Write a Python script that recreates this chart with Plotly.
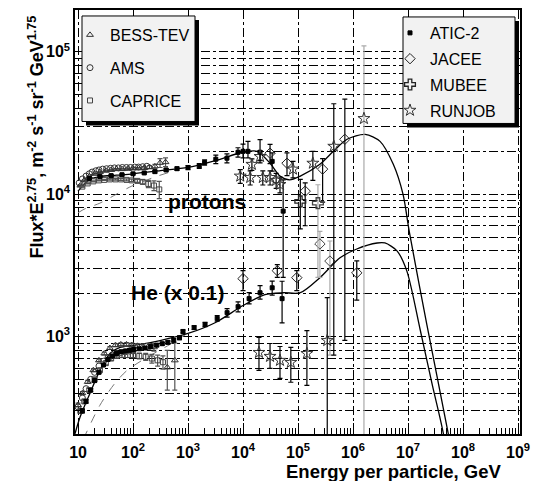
import plotly.graph_objects as go

FONT = "Liberation Sans, Arial, sans-serif"

# ---------------- model curves ----------------
P_FIT_E = [10, 13.4, 18, 25, 50, 100, 300, 1000, 3100, 10000, 18000, 31000, 47000, 70000,
           110000, 250000, 440000, 780000, 1660000, 3100000, 5400000, 8100000, 10500000,
           22000000, 54000000, 70000000]
P_FIT_F = [10500, 11900, 12900, 13300, 13600, 13900, 14600, 15400, 17200, 19700, 20000, 16500,
           13400, 12600, 13400, 16200, 20000, 24300, 26300, 23500, 16200, 10000, 5500,
           1210, 207, 118]
P_DASH_E = [10, 13.4, 25, 50, 95, 250, 470, 700]
P_DASH_F = [7400, 7900, 8650, 10000, 11400, 13200, 14300, 15000]

HE_FIT_E = [8.8, 10.9, 16.5, 25, 38, 58, 100, 310, 1000, 3100, 10000, 25000, 54000, 110000,
            250000, 580000, 1170000, 2750000, 3800000, 6300000, 9500000, 16600000, 27500000,
            44000000, 56000000]
HE_FIT_F = [207, 272, 400, 578, 760, 838, 865, 937, 1050, 1250, 1650, 1970, 2030, 2030,
            2590, 3570, 4120, 4540, 4540, 4000, 2890, 1120, 461, 207, 105]
HE_DASH_E = [12.5, 25, 47, 78, 166, 470, 900]
HE_DASH_F = [190, 329, 470, 578, 701, 880, 1030]

# ---------------- protons ----------------
ATIC_P_E = [16, 25, 40, 63, 100, 160, 250, 400, 630, 1000, 1600, 2000, 3200, 5100, 8100,
            10000, 12300, 20400, 33900, 53700]
ATIC_P_F = [12900, 13300, 13500, 13700, 13900, 14100, 14400, 14800, 15100, 15400, 15800,
            16700, 17600, 17900, 19700, 20000, 20000, 19700, 17000, 7600]
ATIC_P_UP = [200, 200, 200, 200, 200, 200, 300, 300, 400, 500, 600, 700, 1200, 1300, 1500,
             2500, 3500, 4500, 2500, 5000]
ATIC_P_DN = [200, 200, 200, 200, 200, 200, 300, 300, 400, 500, 600, 700, 1200, 1300, 1500,
             2000, 2000, 2500, 2500, 5000]

AMS_P_E = [10.5, 12, 14, 16, 18, 21, 24, 28, 33, 39, 46, 54, 64, 76, 90, 107, 126, 150, 178]
AMS_P_F = [12000, 12800, 13400, 13900, 14300, 14600, 14800, 15000, 15100, 15200, 15300,
           15300, 15400, 15400, 15400, 15500, 15500, 15600, 15700]

BESS_P_E = [11, 13, 16, 20, 25, 32, 40, 50, 63, 80, 100, 126, 160, 200, 250, 310, 390]
BESS_P_F = [11500, 12500, 13300, 13900, 14300, 14600, 14800, 15000, 15000, 15100, 15200,
            15200, 15300, 15500, 15700, 16600, 16800]
BESS_P_ERR = [100, 100, 100, 100, 100, 100, 100, 150, 150, 150, 200, 200, 300, 400, 500,
              1200, 1200]

CAP_P_E = [12, 15, 19, 24, 30, 38, 48, 60, 76, 95, 120, 150, 190, 240, 300]
CAP_P_F = [11300, 11900, 12300, 12500, 12600, 12700, 12700, 12700, 12600, 12500, 12400,
           12200, 11800, 11500, 10800]
CAP_P_ERR = [100, 100, 100, 100, 100, 150, 150, 200, 200, 250, 300, 400, 700, 900, 1500]

JACEE_P_E = [31000, 63000, 135000, 280000, 710000]
JACEE_P_F = [19400, 16500, 10500, 15000, 24300]
JACEE_P_UP = [3000, 3000, 1500, 2800, 22300]
JACEE_P_DN = [3000, 3000, 4500, 6200, 23360]

MUBEE_P_E = [110000]
MUBEE_P_F = [8900]
MUBEE_P_UP = [3800]
MUBEE_P_DN = [3200]
MUBEE_P2_E = [230000]
MUBEE_P2_F = [8650]
MUBEE_P2_UP = [3000]
MUBEE_P2_DN = [6050]

RUNJOB_P_E = [8900, 13500, 14500, 20400, 22900, 31000, 40000, 47000, 81000, 186000, 447000]
RUNJOB_P_F = [13400, 13100, 16200, 18400, 13100, 13100, 12500, 11700, 15000, 16500, 21700]
RUNJOB_P_UP = [1500, 1500, 1500, 1800, 1500, 1500, 1500, 1500, 2000, 3500, 21500]
RUNJOB_P_DN = [1500, 1500, 1500, 1800, 1500, 1500, 1500, 1500, 2000, 4000, 20960]
RUNJOB_P2_E = [1580000]
RUNJOB_P2_F = [34000]
RUNJOB_P2_UP = [76000]
RUNJOB_P2_DN = [33900]

# ---------------- helium (x 0.1) ----------------
ATIC_HE_E = [12, 14, 17, 20, 24, 29, 35, 42, 50, 60, 72, 86, 103, 130, 165, 210, 270, 340,
             430, 550, 700, 810, 1290, 2040, 3390, 5130, 8130, 12900, 20400, 33900, 51300]
ATIC_HE_F = [300, 350, 420, 490, 560, 630, 690, 730, 760, 780, 790, 800, 810, 820, 830, 850,
             870, 890, 910, 940, 980, 1085, 1155, 1215, 1340, 1470, 1620, 1845, 2030, 2200, 1845]
ATIC_HE_UP = [10, 10, 10, 12, 12, 12, 14, 14, 15, 15, 15, 15, 16, 16, 18, 18, 20, 20, 22, 25,
              28, 30, 35, 40, 60, 100, 130, 190, 250, 250, 600]
ATIC_HE_DN = [10, 10, 10, 12, 12, 12, 14, 14, 15, 15, 15, 15, 16, 16, 18, 18, 20, 20, 22, 25,
              28, 30, 35, 40, 60, 100, 130, 150, 200, 250, 600]

AMS_HE_E = [10, 12, 14, 17, 20, 24, 29, 35, 42, 50, 60, 72, 86, 100]
AMS_HE_F = [320, 370, 430, 500, 560, 620, 670, 710, 740, 760, 770, 780, 790, 790]

BESS_HE_E = [10, 12, 15, 19, 24, 30, 38, 48, 60, 76, 95, 120, 150, 190, 240, 420, 575]
BESS_HE_F = [330, 400, 480, 580, 680, 760, 830, 870, 880, 880, 870, 860, 850, 850, 840, 607, 680]
BESS_HE_UP = [10, 10, 12, 14, 15, 16, 18, 20, 22, 25, 28, 30, 35, 40, 50, 193, 220]
BESS_HE_DN = [10, 10, 12, 14, 15, 16, 18, 20, 22, 25, 28, 30, 35, 40, 50, 187, 260]

CAP_HE_E = [11, 13, 16, 20, 25, 32, 40, 50, 63, 80, 100, 130, 170, 220, 280, 350]
CAP_HE_F = [300, 350, 420, 500, 580, 650, 700, 730, 740, 740, 740, 730, 720, 700, 680, 660]
CAP_HE_ERR = [10, 10, 12, 14, 16, 18, 20, 22, 25, 28, 30, 35, 40, 50, 60, 70]

JACEE_HE_E = [10000, 42000, 95000, 1170000]
JACEE_HE_F = [2550, 2900, 2590, 2800]
JACEE_HE_UP = [350, 300, 310, 600]
JACEE_HE_DN = [450, 300, 490, 1000]
JACEE_HE2_E = [250000, 380000]
JACEE_HE2_F = [4470, 3390]
JACEE_HE2_UP = [1000, 1300]
JACEE_HE2_DN = [1870, 2650]

RUNJOB_HE_E = [19500, 31000, 47000, 74000, 145000, 340000]
RUNJOB_HE_F = [773, 725, 680, 658, 760, 937]
RUNJOB_HE_UP = [212, 168, 171, 180, 340, 938]
RUNJOB_HE_DN = [195, 128, 172, 181, 306, 900]

X_TICK_VALS = [10, 100, 1e3, 1e4, 1e5, 1e6, 1e7, 1e8, 1e9]
X_TICK_TEXT = ["10", "10<sup>2</sup>", "10<sup>3</sup>", "10<sup>4</sup>", "10<sup>5</sup>",
               "10<sup>6</sup>", "10<sup>7</sup>", "10<sup>8</sup>", "10<sup>9</sup>"]
Y_TICK_VALS = [1e3, 1e4, 1e5]
Y_TICK_TEXT = ["10<sup>3</sup>", "10<sup>4</sup>", "10<sup>5</sup>"]

# ---------------- geometry helpers (pixels -> paper) ----------------
W, H = 545, 481
ML, MR, MT, MB = 75, 25, 8, 47
PW, PH = W - ML - MR, H - MT - MB


def px(x):
    return (x - ML) / PW


def py(y):
    return (H - MB - y) / PH


fig = go.Figure()


def curve(e, f, dash=None, color="black", width=1.3):
    fig.add_trace(go.Scatter(x=e, y=f, mode="lines", line=dict(color=color, width=width,
                                                               dash=dash, shape="spline",
                                                               smoothing=0.8),
                             showlegend=False, hoverinfo="skip"))


curve(P_DASH_E, P_DASH_F, dash="dash", color="#777777", width=1)
curve(HE_DASH_E, HE_DASH_F, dash="dash", color="#777777", width=1)
curve(P_FIT_E, P_FIT_F)
curve(HE_FIT_E, HE_FIT_F)


def pts(e, f, symbol, size, name, legend, group, show, up=None, dn=None, ecolor="black",
        mcolor="black", lw=1):
    err = None
    if up is not None:
        err = dict(type="data", symmetric=False, array=up,
                   arrayminus=dn if dn is not None else up,
                   color=ecolor, thickness=1.2, width=2.5)
    fig.add_trace(go.Scatter(
        x=e, y=f, mode="markers", name=name, legend=legend, legendgroup=group,
        showlegend=show, error_y=err,
        marker=dict(symbol=symbol, size=size, color=mcolor,
                    line=dict(color=mcolor, width=lw))))


# left legend entries
pts(BESS_P_E, BESS_P_F, "triangle-up-open", 6, "BESS-TEV", "legend", "bess", True,
    BESS_P_ERR, BESS_P_ERR, ecolor="#555555", mcolor="#333333")
pts(BESS_HE_E, BESS_HE_F, "triangle-up-open", 6, "BESS-TEV", "legend", "bess", False,
    BESS_HE_UP, BESS_HE_DN, ecolor="#555555", mcolor="#333333")
pts(AMS_P_E, AMS_P_F, "circle-open", 6, "AMS", "legend", "ams", True, mcolor="#333333")
pts(AMS_HE_E, AMS_HE_F, "circle-open", 6, "AMS", "legend", "ams", False, mcolor="#333333")
pts(CAP_P_E, CAP_P_F, "square-open", 5, "CAPRICE", "legend", "cap", True,
    CAP_P_ERR, CAP_P_ERR, ecolor="#555555", mcolor="#444444")
pts(CAP_HE_E, CAP_HE_F, "square-open", 5, "CAPRICE", "legend", "cap", False,
    CAP_HE_ERR, CAP_HE_ERR, ecolor="#555555", mcolor="#444444")

# right legend entries
pts(ATIC_P_E, ATIC_P_F, "square", 4, "ATIC-2", "legend2", "atic", True,
    ATIC_P_UP, ATIC_P_DN)
pts(ATIC_HE_E, ATIC_HE_F, "square", 4, "ATIC-2", "legend2", "atic", False,
    ATIC_HE_UP, ATIC_HE_DN)
pts(JACEE_P_E, JACEE_P_F, "diamond-open", 8, "JACEE", "legend2", "jacee", True,
    JACEE_P_UP, JACEE_P_DN, mcolor="#222222")
pts(JACEE_HE_E, JACEE_HE_F, "diamond-open", 8, "JACEE", "legend2", "jacee", False,
    JACEE_HE_UP, JACEE_HE_DN, mcolor="#222222")
pts(JACEE_HE2_E, JACEE_HE2_F, "diamond-open", 8, "JACEE", "legend2", "jacee", False,
    JACEE_HE2_UP, JACEE_HE2_DN, ecolor="#aaaaaa", mcolor="#444444")
pts(MUBEE_P_E, MUBEE_P_F, "cross-open", 9, "MUBEE", "legend2", "mubee", True,
    MUBEE_P_UP, MUBEE_P_DN, mcolor="#222222", lw=1.3)
pts(MUBEE_P2_E, MUBEE_P2_F, "cross-open", 9, "MUBEE", "legend2", "mubee", False,
    MUBEE_P2_UP, MUBEE_P2_DN, ecolor="#aaaaaa", mcolor="#444444", lw=1.3)
pts(RUNJOB_P_E, RUNJOB_P_F, "star-open", 9, "RUNJOB", "legend2", "runjob", True,
    RUNJOB_P_UP, RUNJOB_P_DN, mcolor="#333333")
pts(RUNJOB_P2_E, RUNJOB_P2_F, "star-open", 9, "RUNJOB", "legend2", "runjob", False,
    RUNJOB_P2_UP, RUNJOB_P2_DN, ecolor="#aaaaaa", mcolor="#333333")
pts(RUNJOB_HE_E, RUNJOB_HE_F, "star-open", 9, "RUNJOB", "legend2", "runjob", False,
    RUNJOB_HE_UP, RUNJOB_HE_DN, mcolor="#333333")

y_minor = [k * 10 ** d for d in range(2, 6) for k in range(2, 10)]
x_minor = [k * 10 ** d for d in range(1, 9) for k in range(2, 10)]

grid = dict(showgrid=True, gridcolor="black", gridwidth=1, griddash="dashdot",
            showline=True, linecolor="black", linewidth=1.5, mirror=True, zeroline=False,
            tickcolor="black", tickfont=dict(family=FONT, size=16, color="black", weight="bold"))

fig.update_layout(
    width=W, height=H, margin=dict(l=ML, r=MR, t=MT, b=MB),
    paper_bgcolor="white", plot_bgcolor="white",
    xaxis=dict(type="log", range=[0.945, 9.036], tickvals=X_TICK_VALS, ticktext=X_TICK_TEXT,
               ticks="inside", ticklen=11, tickwidth=1, ticklabelstandoff=3,
               minor=dict(tickvals=x_minor, ticks="inside", ticklen=6, tickcolor="black",
                          showgrid=False),
               **grid),
    yaxis=dict(type="log", range=[2.315, 5.294], tickvals=Y_TICK_VALS, ticktext=Y_TICK_TEXT,
               ticks="inside", ticklen=6,
               minor=dict(tickvals=y_minor, ticks="inside", ticklen=5, tickcolor="black",
                          showgrid=True, gridcolor="black", gridwidth=1, griddash="dashdot"),
               **grid),
    legend=dict(x=px(70), y=py(16), xanchor="left", yanchor="top",
                bgcolor="rgba(0,0,0,0)", borderwidth=0, tracegroupgap=9,
                font=dict(family=FONT, size=16, color="black"), itemsizing="trace"),
    legend2=dict(x=px(390), y=py(14), xanchor="left", yanchor="top",
                 bgcolor="rgba(0,0,0,0)", borderwidth=0, tracegroupgap=2,
                 font=dict(family=FONT, size=16, color="black"), itemsizing="trace"),
    showlegend=True,
)

# legend boxes with drop shadows
for (x0, y0, x1, y1) in [(82, 14, 195, 120), (403, 15, 515, 122)]:
    fig.add_shape(type="rect", xref="paper", yref="paper", layer="above",
                  x0=px(x0 + 4), x1=px(x1 + 4), y0=py(y1 + 4), y1=py(y0 + 4),
                  fillcolor="black", line=dict(width=0))
    fig.add_shape(type="rect", xref="paper", yref="paper", layer="above",
                  x0=px(x0), x1=px(x1), y0=py(y1), y1=py(y0),
                  fillcolor="#f2f2f2", line=dict(color="black", width=1))

ann = [
    dict(text="protons", x=px(207), y=py(200), size=21),
    dict(text="He (x 0.1)", x=px(177), y=py(292), size=21),
]
for a in ann:
    fig.add_annotation(text=a["text"], x=a["x"], y=a["y"], xref="paper", yref="paper",
                       showarrow=False, xanchor="center", yanchor="middle",
                       font=dict(family=FONT, size=a["size"], color="black", weight="bold"))

fig.add_annotation(text="Flux*E<sup>2.75</sup>, m<sup>-2</sup> s<sup>-1</sup> sr<sup>-1</sup> GeV<sup>1.75</sup>",
                   x=px(36), y=py(136), xref="paper", yref="paper", showarrow=False,
                   textangle=-90, xanchor="center", yanchor="middle",
                   font=dict(family=FONT, size=18, color="black", weight="bold"))
fig.add_annotation(text="Energy per particle, GeV", x=px(504), y=py(472), xref="paper",
                   yref="paper", showarrow=False, xanchor="right", yanchor="middle",
                   font=dict(family=FONT, size=18.5, color="black", weight="bold"))

fig.write_html("out.html")
